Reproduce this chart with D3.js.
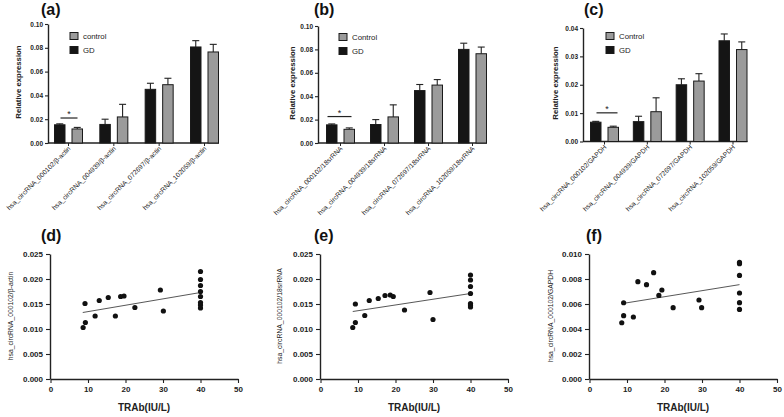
<!DOCTYPE html>
<html><head><meta charset="utf-8">
<script src="https://cdn.jsdelivr.net/npm/d3@7"></script>
<style>body{margin:0;background:#fff}svg{display:block}</style>
</head><body>
<svg id="c" width="784" height="417"></svg>
<script>
// ---------- DATA ----------
const groupsA = ["hsa_circRNA_000102/β-actin","hsa_circRNA_004939/β-actin","hsa_circRNA_072697/β-actin","hsa_circRNA_102059/β-actin"];
const groupsB = ["hsa_circRNA_000102/18srRNA","hsa_circRNA_004939/18srRNA","hsa_circRNA_072697/18srRNA","hsa_circRNA_102059/18srRNA"];
const groupsC = ["hsa_circRNA_000102/GAPDH","hsa_circRNA_004939/GAPDH","hsa_circRNA_072697/GAPDH","hsa_circRNA_102059/GAPDH"];
const gdA = [0.0153, 0.0156, 0.0451, 0.0807];
const gdErrA = [0.0008, 0.0044, 0.0051, 0.0053];
const ctrlA = [0.0118, 0.0219, 0.0490, 0.0765];
const ctrlErrA = [0.0013, 0.0106, 0.0054, 0.0064];
const gdB = [0.0155, 0.0158, 0.0448, 0.0800];
const gdErrB = [0.0008, 0.0042, 0.0052, 0.0053];
const ctrlB = [0.0117, 0.0223, 0.0495, 0.0763];
const ctrlErrB = [0.0012, 0.0103, 0.0047, 0.0057];
const gdC = [0.0068, 0.0070, 0.0200, 0.0355];
const gdErrC = [0.0003, 0.0019, 0.0021, 0.0024];
const ctrlC = [0.0050, 0.0105, 0.0213, 0.0324];
const ctrlErrC = [0.0004, 0.0049, 0.0026, 0.0027];
const sigLevels = [0.0210, 0.0226, 0.0101];
const yTicksAB = [0, 0.02, 0.04, 0.06, 0.08, 0.10];
const yTicksC = [0, 0.01, 0.02, 0.03, 0.04];
const legendA = ["control", "GD"];
const legendBC = ["Control", "GD"];
const panelTitles = ["(a)", "(b)", "(c)", "(d)", "(e)", "(f)"];

const trabD = [8.7, 9.3, 9.2, 11.9, 13.0, 15.4, 17.3, 18.7, 19.6, 22.5, 29.3, 30.1, 40, 40, 40, 40, 40, 40, 40, 40];
const exprD = [0.0103, 0.0113, 0.0151, 0.0126, 0.0157, 0.0163, 0.0126, 0.0165, 0.0166, 0.0143, 0.0178, 0.0136, 0.0215, 0.0199, 0.0187, 0.0175, 0.0165, 0.0153, 0.0148, 0.0142];
const trabE = [8.6, 9.3, 9.3, 11.8, 13.0, 15.4, 17.2, 18.6, 19.4, 22.4, 29.2, 30.0, 40, 40, 40, 40, 40, 40, 40];
const exprE = [0.0103, 0.0113, 0.0150, 0.0127, 0.0157, 0.0161, 0.0167, 0.0168, 0.0165, 0.0138, 0.0173, 0.0119, 0.0208, 0.0198, 0.0185, 0.0171, 0.0151, 0.0148, 0.0144];
const trabF = [8.6, 9.1, 9.1, 11.7, 12.9, 15.2, 17.1, 18.5, 19.3, 22.3, 29.2, 29.9, 40, 40, 40, 40, 40, 40];
const exprF = [0.0045, 0.0061, 0.00507, 0.00496, 0.00779, 0.00755, 0.00851, 0.00669, 0.00712, 0.00571, 0.00632, 0.00571, 0.00933, 0.00923, 0.00829, 0.00688, 0.00611, 0.00557];
const fitX = [8.6, 40];
const fitD = [0.0133, 0.0173];
const fitE = [0.0135, 0.0171];
const fitF = [0.00603, 0.00755];
const xTicksTRAb = [0, 10, 20, 30, 40, 50];
const yTicksDE = [0, 0.005, 0.010, 0.015, 0.020, 0.025];
const yTicksF = [0, 0.002, 0.004, 0.006, 0.008, 0.010];
const yLabels = ["hsa_circRNA_000102/β-actin", "hsa_circRNA_000102/18srRNA", "hsa_circRNA_000102/GAPDH"];

// ---------- DRAWING ----------
const svg = d3.select("#c");
const FONT = "'Liberation Sans', Arial, Helvetica, sans-serif";
const INK = "#222";

function styleAxis(sel, fs) {
  sel.selectAll("path").attr("stroke", INK).attr("stroke-width", 1.4);
  sel.selectAll("line").attr("stroke", INK).attr("stroke-width", 1.1);
  sel.selectAll("text").attr("font-family", FONT).attr("font-weight", "bold").attr("font-size", fs).attr("fill", INK);
}

function barPanel(o) {
  const y = d3.scaleLinear().domain([0, o.ymax]).range([o.y0, o.y1]);
  const xc = d3.scalePoint().domain(o.groups).range([o.c0, o.c1]);
  const xs = d3.scaleBand().domain(["GD", "ctrl"]).range([-14, 14]).paddingInner(0.4);
  const bw = xs.bandwidth();
  const g = svg.append("g");

  const ya = g.append("g").attr("transform", `translate(${o.ax},0)`)
    .call(d3.axisLeft(y).tickValues(o.ticks).tickFormat(d3.format(".2f")).tickSize(3).tickSizeOuter(0).tickPadding(2));
  styleAxis(ya, 6.5);

  const xEnd = xc(o.groups[o.groups.length - 1]) + 14.5;
  g.append("line").attr("x1", o.ax).attr("x2", xEnd).attr("y1", o.y0).attr("y2", o.y0)
    .attr("stroke", INK).attr("stroke-width", 1.4);
  g.selectAll(".gt").data(o.groups).join("line")
    .attr("x1", d => xc(d)).attr("x2", d => xc(d)).attr("y1", o.y0).attr("y2", o.y0 + 3)
    .attr("stroke", INK).attr("stroke-width", 1);

  const series = [
    {k: "GD", v: o.gd, e: o.gdErr, fill: "#151515"},
    {k: "ctrl", v: o.ctrl, e: o.ctrlErr, fill: "#9b9b9b"}
  ];
  series.forEach(s => {
    const data = o.groups.map((gname, i) => ({g: gname, v: s.v[i], e: s.e[i]}));
    g.selectAll(null).data(data).join("line")
      .attr("x1", d => xc(d.g) + xs(s.k) + bw / 2).attr("x2", d => xc(d.g) + xs(s.k) + bw / 2)
      .attr("y1", d => y(d.v)).attr("y2", d => y(d.v + d.e))
      .attr("stroke", "#222").attr("stroke-width", 1.1);
    g.selectAll(null).data(data).join("line")
      .attr("x1", d => xc(d.g) + xs(s.k) + bw / 2 - 3.5).attr("x2", d => xc(d.g) + xs(s.k) + bw / 2 + 3.5)
      .attr("y1", d => y(d.v + d.e)).attr("y2", d => y(d.v + d.e))
      .attr("stroke", "#222").attr("stroke-width", 1.1);
    g.selectAll(null).data(data).join("rect")
      .attr("x", d => xc(d.g) + xs(s.k)).attr("width", bw)
      .attr("y", d => y(d.v)).attr("height", d => o.y0 - y(d.v))
      .attr("fill", s.fill).attr("stroke", "#1a1a1a").attr("stroke-width", 1);
  });

  const c0 = xc(o.groups[0]);
  g.append("line").attr("x1", c0 + o.sigSpan[0]).attr("x2", c0 + o.sigSpan[1])
    .attr("y1", y(o.sig)).attr("y2", y(o.sig)).attr("stroke", INK).attr("stroke-width", 1.2);
  g.append("text").attr("x", c0 + (o.sigSpan[0] + o.sigSpan[1]) / 2).attr("y", y(o.sig) - 1)
    .attr("text-anchor", "middle").attr("font-family", FONT).attr("font-size", 9).attr("fill", INK).text("*");

  g.selectAll(null).data(o.groups).join("text")
    .attr("transform", d => `translate(${xc(d) + 2.5},${o.y0 + 6}) rotate(-45)`)
    .attr("text-anchor", "end").attr("font-family", FONT).attr("font-size", 6.7).attr("fill", "#222")
    .text(d => d);

  g.append("text").attr("transform", `translate(${o.ylx},${o.yly}) rotate(-90)`)
    .attr("text-anchor", "middle").attr("font-family", FONT).attr("font-weight", "bold").attr("font-size", 7.8)
    .attr("fill", INK).text("Relative expression");

  const lg = g.append("g").attr("transform", `translate(${o.lx},${o.ly})`);
  const fills = ["#9b9b9b", "#151515"];
  o.legend.forEach((t, i) => {
    lg.append("rect").attr("x", 0).attr("y", i * 14 - 3.5).attr("width", 8).attr("height", 7)
      .attr("fill", fills[i]).attr("stroke", "#1a1a1a").attr("stroke-width", 1);
    lg.append("text").attr("x", 13).attr("y", i * 14 + 2.8).attr("font-family", FONT).attr("font-size", 7.8)
      .attr("fill", INK).text(t);
  });

  g.append("text").attr("x", o.tx).attr("y", o.ty).attr("font-family", FONT).attr("font-weight", "bold")
    .attr("font-size", 16).attr("fill", "#111").text(o.title);
}

function scatterPanel(o) {
  const x = d3.scaleLinear().domain([0, 50]).range([o.ax + 0.5, o.axEnd]);
  const y = d3.scaleLinear().domain([0, o.ymax]).range([o.y0, o.y1]);
  const g = svg.append("g");
  const xa = g.append("g").attr("transform", `translate(0,${o.y0})`)
    .call(d3.axisBottom(x).tickValues(xTicksTRAb).tickFormat(d3.format("d")).tickSize(4).tickSizeOuter(0).tickPadding(3));
  styleAxis(xa, 8);
  const ya = g.append("g").attr("transform", `translate(${o.ax},0)`)
    .call(d3.axisLeft(y).tickValues(o.ticks).tickFormat(d3.format(".3f")).tickSize(4).tickSizeOuter(0).tickPadding(3));
  styleAxis(ya, 8);

  g.append("line").attr("x1", x(fitX[0])).attr("x2", x(fitX[1]))
    .attr("y1", y(o.fit[0])).attr("y2", y(o.fit[1])).attr("stroke", "#444").attr("stroke-width", 0.9);

  const pts = o.xs.map((v, i) => ({x: v, y: o.ys[i]}));
  g.selectAll(null).data(pts).join("circle")
    .attr("cx", d => x(d.x)).attr("cy", d => y(d.y)).attr("r", 2.6).attr("fill", "#111");

  g.append("text").attr("x", (o.ax + o.axEnd) / 2).attr("y", 411).attr("text-anchor", "middle")
    .attr("font-family", FONT).attr("font-weight", "bold").attr("font-size", 10).attr("fill", INK).text("TRAb(IU/L)");
  g.append("text").attr("transform", `translate(${o.ylx},316) rotate(-90)`).attr("text-anchor", "middle")
    .attr("font-family", FONT).attr("font-size", 6.8).attr("fill", INK).text(o.ylabel);
  g.append("text").attr("x", o.tx).attr("y", 241).attr("font-family", FONT).attr("font-weight", "bold")
    .attr("font-size", 16).attr("fill", "#111").text(o.title);
}

barPanel({groups: groupsA, gd: gdA, gdErr: gdErrA, ctrl: ctrlA, ctrlErr: ctrlErrA, ymax: 0.10, ticks: yTicksAB,
  y0: 143, y1: 24, ax: 48, c0: 68.5, c1: 204.5, sig: sigLevels[0], sigSpan: [-8, 9],
  legend: legendA, lx: 70, ly: 36, ylx: 20.5, yly: 82, title: panelTitles[0], tx: 41, ty: 15});
barPanel({groups: groupsB, gd: gdB, gdErr: gdErrB, ctrl: ctrlB, ctrlErr: ctrlErrB, ymax: 0.10, ticks: yTicksAB,
  y0: 143, y1: 26, ax: 318, c0: 340.5, c1: 472.5, sig: sigLevels[1], sigSpan: [-13, 11],
  legend: legendBC, lx: 339, ly: 37, ylx: 295, yly: 83, title: panelTitles[1], tx: 314, ty: 15});
barPanel({groups: groupsC, gd: gdC, gdErr: gdErrC, ctrl: ctrlC, ctrlErr: ctrlErrC, ymax: 0.04, ticks: yTicksC,
  y0: 141.5, y1: 28, ax: 583, c0: 604.5, c1: 733, sig: sigLevels[2], sigSpan: [-8, 13],
  legend: legendBC, lx: 606, ly: 36, ylx: 558, yly: 83, title: panelTitles[2], tx: 584, ty: 15});

scatterPanel({xs: trabD, ys: exprD, fit: fitD, ymax: 0.025, ticks: yTicksDE, ax: 50, axEnd: 238, y0: 379, y1: 254,
  ylx: 13, ylabel: yLabels[0], title: panelTitles[3], tx: 41});
scatterPanel({xs: trabE, ys: exprE, fit: fitE, ymax: 0.025, ticks: yTicksDE, ax: 320, axEnd: 508, y0: 379, y1: 254,
  ylx: 282, ylabel: yLabels[1], title: panelTitles[4], tx: 314});
scatterPanel({xs: trabF, ys: exprF, fit: fitF, ymax: 0.010, ticks: yTicksF, ax: 589, axEnd: 777, y0: 379, y1: 254,
  ylx: 553, ylabel: yLabels[2], title: panelTitles[5], tx: 586});
</script>
</body></html>
